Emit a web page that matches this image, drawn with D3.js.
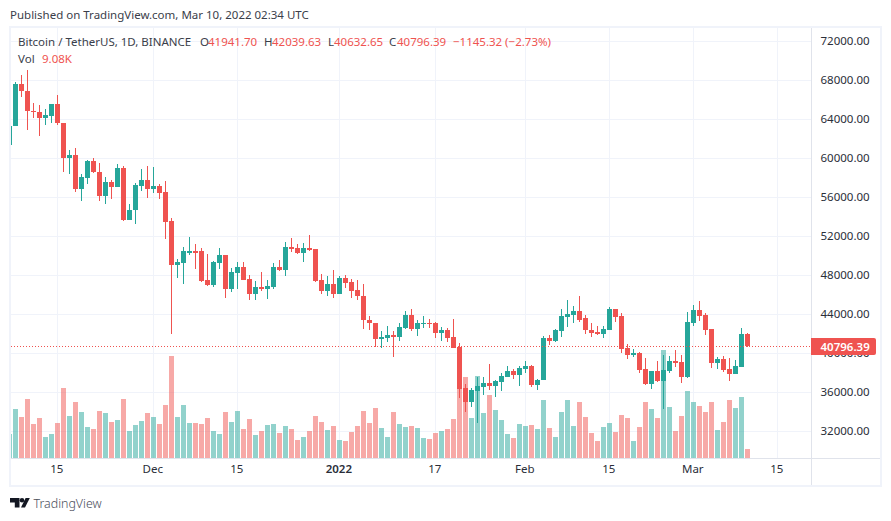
<!DOCTYPE html>
<html>
<head>
<meta charset="utf-8">
<script src="https://cdn.jsdelivr.net/npm/d3@7"></script>
<style>
  html, body { margin: 0; padding: 0; background: #fff; }
  svg { display: block; }
  text { font-family: "Noto Sans", sans-serif; }
</style>
</head>
<body>
<div id="chart"></div>
<script>
// daily candles, 2021-11-07 .. 2022-03-10
const opens = [61400,63310,67620,66940,64880,64800,64120,64380,65520,63610,60060,60340,56870,58000,59720,58600,56150,57560,57100,59000,53700,54650,57160,57780,56870,57170,56540,53570,49090,49260,50290,50490,50490,47520,47040,49270,50080,46600,48250,48860,47630,46100,46800,46600,46800,48870,48560,50900,50800,50290,50800,50700,47520,46420,47110,46100,47720,47320,46500,45880,43410,43090,41470,41570,41880,41680,42600,43950,42520,43010,43110,43110,42090,42390,41680,40650,36440,35000,36130,36540,36950,36640,37060,37570,38190,37780,38400,38700,36750,37260,41570,41270,42290,43720,43930,44340,43620,42390,42190,41990,42390,44560,43830,40550,39830,40030,38390,36840,38190,37160,38190,39210,39110,37570,43110,44440,43950,42490,39010,39420,38390,37870,38600,41941.70];
const highs = [63340,67800,68540,69050,65640,65440,65050,65570,66490,63650,60850,61060,58390,59830,60030,59520,58080,57780,59420,59210,55310,57470,58900,59210,59110,57360,57670,53880,49670,50900,51930,51210,50800,50190,49450,50800,50100,48740,49370,49370,48040,47420,48340,47520,49260,49570,51420,51830,51210,51320,52130,50720,48140,47930,48550,47930,48040,47630,47520,47110,43830,43110,42290,42800,42290,43110,44350,44560,43420,43830,43520,43210,42700,42600,43520,41060,36840,36440,37570,37570,38900,37260,37980,38700,38390,38700,39210,38800,37360,41780,41880,42490,44560,45470,44850,45850,43950,43110,42800,42800,44750,44580,44150,40960,40450,40130,39520,38210,39210,39830,39730,40340,39830,44250,44960,45370,44150,42510,39630,39730,39520,39320,42600,42039.63];
const lows = [61300,63300,66320,62900,64100,62290,63400,63620,63400,58590,58390,56540,55620,57360,58490,55620,55310,55830,57060,53570,53650,53260,56650,55930,56440,55830,51720,41980,47720,47110,50080,48640,47310,46900,46800,48640,45670,46290,46590,47500,45470,45470,46390,45570,46590,48450,47930,50390,50190,49370,50490,47310,46080,45880,45670,46080,46700,45670,45470,42490,42390,40650,40550,41160,39630,41260,42490,42290,41780,42600,42600,41570,41260,41160,40530,35420,33970,34490,32840,35730,36240,35520,36130,37560,37360,36650,37980,36540,36240,37240,40860,41160,41680,42700,43110,43210,41980,41680,41880,41570,42370,43190,40030,39420,39630,37980,36740,36340,37060,34280,37980,38600,36960,37460,42800,43320,41880,38500,38390,38090,37160,37850,38590,40632.65];
const closes = [63310,67620,66940,64880,64770,64120,64440,65520,63610,60060,60340,56870,58080,59720,58600,56150,57560,57100,59000,53700,54700,57260,57780,56870,57170,56440,53480,49090,49380,50490,50490,50290,47440,47040,49390,50080,46600,48340,48860,47520,46100,46800,46600,46900,48870,48560,50900,50700,50290,50800,50600,47420,46420,47110,46100,47720,47220,46420,45830,43410,43090,41470,41680,41890,41680,42700,43950,42520,43110,43110,43010,42090,42390,41600,40550,36340,35000,36240,36650,36950,36640,37160,37680,38190,37780,38480,38700,36750,37260,41570,41270,42390,43830,44030,44340,43420,42390,42090,41990,42490,44560,43730,40450,39830,40030,38290,36840,38190,37160,38290,39210,39010,37570,43210,44440,43830,42390,39010,39420,38290,37870,38700,42000,40796.39];
const volumes = [23.8,48.2,40.4,58.0,33.5,39.4,20.8,23.8,34.5,68.7,41.3,55.0,45.3,30.6,28.6,46.2,44.3,35.5,37.4,58.0,26.7,32.6,36.5,44.3,40.4,33.5,52.1,100,40.4,52.1,34.5,34.5,33.5,39.4,26.7,23.8,45.3,35.5,46.2,28.6,38.4,22.8,26.7,32.6,33.5,24.7,31.6,28.6,17.9,20.8,26.7,41.3,35.5,27.7,31.6,17.9,16.9,25.7,31.6,46.2,34.5,49.2,29.6,20.8,45.3,33.5,30.6,31.6,29.6,19.8,18.9,24.7,26.7,28.6,38.4,84.4,79.5,39.4,80.4,44.3,61.9,47.2,37.4,23.8,19.8,33.5,31.6,32.6,28.6,57,29.6,20.8,45.3,57,31.6,55,40.4,24.7,16.9,30.6,34.5,25.7,42.3,39.4,16.9,30.6,55,48.2,39.4,105.9,50.1,26.7,41.3,65.8,55,51.1,45.3,55,27.7,35.5,57,49.2,59.9,9.08];

const priceTicks = [72000,68000,64000,60000,56000,52000,48000,44000,40000,36000,32000];
const dateTicks = ['2021-11-15','2021-12-01','2021-12-15','2022-01-01','2022-01-17','2022-02-01','2022-02-15','2022-03-01','2022-03-15'];
const dateLabels = ['15','Dec','15','2022','17','Feb','15','Mar','15'];
const legendParts = [
  ['Bitcoin / TetherUS, 1D, BINANCE', 18, 46, 'ink'],
  ['O', 200, 46, 'ink'], ['41941.70', 208, 46, 'red'],
  ['H', 264, 46, 'ink'], ['42039.63', 272, 46, 'red'],
  ['L', 328, 46, 'ink'], ['40632.65', 334, 46, 'red'],
  ['C', 389, 46, 'ink'], ['40796.39', 397, 46, 'red'],
  ['\u22121145.32 (\u22122.73%)', 453, 46, 'red'],
  ['Vol', 18, 63, 'ink'], ['9.08K', 42, 63, 'red']
];

const lastPrice = 40796.39;
const width = 891;
const height = 521;
const up = '#26a69a';
const down = '#ef5350';
const ink = '#2a2e39';
const frameColor = '#f0f3fa';
const lineColor = '#e0e3eb';

const pane = {left: 11, top: 28, right: 811, bottom: 458};

const days = d3.utcDay.range(new Date(Date.UTC(2021, 10, 7)), new Date(Date.UTC(2022, 2, 11)));
const tickDates = dateTicks.map(d => new Date(d + 'T00:00:00Z'));

const x = d3.scaleUtc()
  .domain([days[0], days[days.length - 1]])
  .range([9.3, 747.3]);

const y = d3.scaleLinear()
  .domain([32000, 72000])
  .range([431.3, 41.3]);

const yVol = d3.scaleLinear()
  .domain([0, 100])
  .range([458.3, 356]);

const svg = d3.select('#chart').append('svg')
  .attr('width', width)
  .attr('height', height);

svg.append('defs').append('clipPath')
  .attr('id', 'pane')
  .append('rect')
  .attr('x', pane.left)
  .attr('y', pane.top)
  .attr('width', pane.right - pane.left)
  .attr('height', pane.bottom - pane.top);

svg.append('text')
  .attr('x', 10)
  .attr('y', 19)
  .attr('font-size', 11.5)
  .attr('fill', '#3a3e4a')
  .text('Published on TradingView.com, Mar 10, 2022 02:34 UTC');

// grid
const grid = svg.append('g')
  .attr('stroke', frameColor)
  .attr('shape-rendering', 'crispEdges');

grid.selectAll('.h')
  .data(priceTicks)
  .enter().append('line')
  .attr('x1', pane.left)
  .attr('x2', pane.right)
  .attr('y1', d => Math.round(y(d)) + 0.5)
  .attr('y2', d => Math.round(y(d)) + 0.5);

grid.selectAll('.v')
  .data(tickDates)
  .enter().append('line')
  .attr('x1', d => Math.floor(x(d)) + 0.5)
  .attr('x2', d => Math.floor(x(d)) + 0.5)
  .attr('y1', pane.top)
  .attr('y2', pane.bottom);

const plot = svg.append('g')
  .attr('clip-path', 'url(#pane)')
  .attr('shape-rendering', 'crispEdges');

const color = i => closes[i] >= opens[i] ? up : down;

// volume
plot.selectAll('.vol')
  .data(volumes)
  .enter().append('rect')
  .attr('x', (d, i) => Math.floor(x(days[i])) - 2)
  .attr('width', 5)
  .attr('y', d => Math.round(yVol(d)))
  .attr('height', d => Math.round(yVol(0)) - Math.round(yVol(d)))
  .attr('fill', (d, i) => color(i))
  .attr('fill-opacity', 0.5);

// candles
plot.selectAll('.wick')
  .data(days)
  .enter().append('rect')
  .attr('x', d => Math.floor(x(d)))
  .attr('width', 1)
  .attr('y', (d, i) => Math.round(y(highs[i])))
  .attr('height', (d, i) => Math.max(1, Math.round(y(lows[i])) - Math.round(y(highs[i]))))
  .attr('fill', (d, i) => color(i));

plot.selectAll('.body')
  .data(days)
  .enter().append('rect')
  .attr('x', d => Math.floor(x(d)) - 2)
  .attr('width', 5)
  .attr('y', (d, i) => Math.round(y(Math.max(opens[i], closes[i]))))
  .attr('height', (d, i) => Math.max(1, Math.round(y(Math.min(opens[i], closes[i]))) - Math.round(y(Math.max(opens[i], closes[i])))))
  .attr('fill', (d, i) => color(i));

// last price line
svg.append('line')
  .attr('x1', pane.left)
  .attr('x2', pane.right)
  .attr('y1', Math.round(y(lastPrice)) + 0.5)
  .attr('y2', Math.round(y(lastPrice)) + 0.5)
  .attr('stroke', down)
  .attr('stroke-dasharray', '1 2')
  .attr('shape-rendering', 'crispEdges');

// frame and axis lines
svg.append('rect')
  .attr('x', 10)
  .attr('y', 27)
  .attr('width', 871)
  .attr('height', 459)
  .attr('fill', 'none')
  .attr('stroke', frameColor)
  .attr('stroke-width', 2)
  .attr('shape-rendering', 'crispEdges');

svg.append('line')
  .attr('x1', pane.right + 0.5)
  .attr('x2', pane.right + 0.5)
  .attr('y1', pane.top)
  .attr('y2', 485)
  .attr('stroke', lineColor)
  .attr('shape-rendering', 'crispEdges');

svg.append('line')
  .attr('x1', pane.left)
  .attr('x2', 880)
  .attr('y1', pane.bottom + 0.5)
  .attr('y2', pane.bottom + 0.5)
  .attr('stroke', lineColor)
  .attr('shape-rendering', 'crispEdges');

// axes
const yAxis = d3.axisRight(y)
  .tickValues(priceTicks)
  .tickFormat(d => d.toFixed(2))
  .tickSize(0)
  .tickPadding(0);

const yAxisG = svg.append('g')
  .attr('transform', 'translate(820.5,0)')
  .call(yAxis);

const xAxis = d3.axisBottom(x)
  .tickValues(tickDates)
  .tickFormat((d, i) => dateLabels[i])
  .tickSize(0)
  .tickPadding(0);

const xAxisG = svg.append('g')
  .attr('transform', 'translate(-1,465)')
  .call(xAxis);

[yAxisG, xAxisG].forEach(g => {
  g.select('.domain').remove();
  g.selectAll('text')
    .attr('font-family', '"Noto Sans", sans-serif')
    .attr('font-size', 11.5)
    .attr('fill', ink);
});

xAxisG.selectAll('text')
  .filter((d, i) => dateLabels[i] === '2022')
  .attr('font-weight', 600);

// last price tag
svg.append('path')
  .attr('d', 'M811,338H874a2,2 0 0 1 2,2V353a2,2 0 0 1 -2,2H811Z')
  .attr('fill', down);

svg.append('text')
  .attr('x', 820.5)
  .attr('y', 350.5)
  .attr('font-size', 11.5)
  .attr('font-weight', 600)
  .attr('fill', '#fff')
  .text(lastPrice.toFixed(2));

// legend
svg.append('g').selectAll('text')
  .data(legendParts)
  .enter().append('text')
  .attr('x', d => d[1])
  .attr('y', d => d[2])
  .attr('font-size', 11.5)
  .attr('fill', d => d[3] === 'red' ? down : '#3a3e4a')
  .text(d => d[0]);

// logo
const logo = svg.append('g').attr('fill', '#131722');
logo.append('path').attr('d', 'M10,498H19.5V507.5H14.8V502.6H10Z');
logo.append('circle').attr('cx', 22).attr('cy', 500.3).attr('r', 2.3);
logo.append('path').attr('d', 'M21,507.5L25.6,498H29.8L25,507.5Z');

svg.append('text')
  .attr('x', 33.5)
  .attr('y', 508)
  .attr('font-size', 12.4)
  .attr('font-weight', 300)
  .attr('fill', '#4a4e5a')
  .text('TradingView');
</script>
</body>
</html>
